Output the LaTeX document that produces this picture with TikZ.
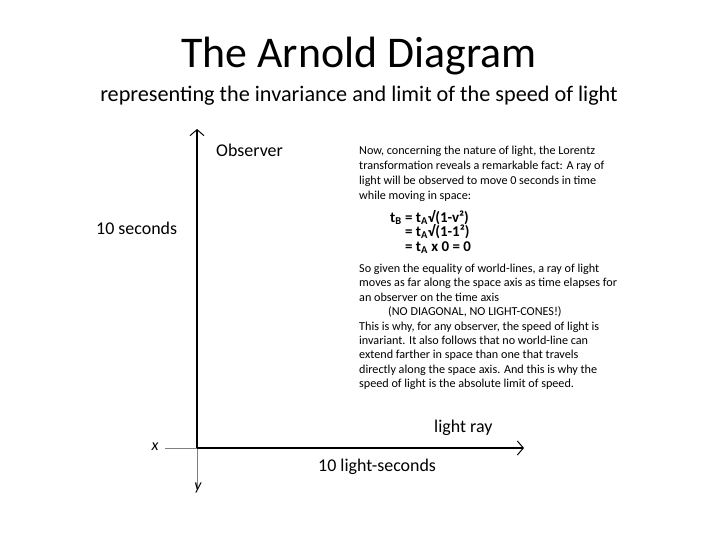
\documentclass[tikz,border=0pt]{standalone}
\usepackage{fontspec}
\setmainfont{Carlito}
\usetikzlibrary{arrows.meta}
\begin{document}
\begin{tikzpicture}[x=1bp,y=-1bp,
  lbl/.style={inner sep=0pt,font=\fontsize{18}{20}\selectfont},
  para/.style={inner sep=0pt,align=left,anchor=north west,font=\fontsize{12.2}{14.4}\selectfont},
  axis/.style={line width=1.2pt,-{Straight Barb[length=6bp,width=14bp,line width=1pt]}},
  thin/.style={gray,line width=0.6pt}]
\useasboundingbox (0,0) rectangle (720,540);
\node[inner sep=0pt,font=\fontsize{44}{48}\selectfont,anchor=base] (title) at (359,68) {The Arnold Diagram};
\node[inner sep=0pt,font=\fontsize{22.3}{24}\selectfont,anchor=base] (sub) at (359,102) {representing the invariance and limit of the speed of light};
\coordinate (o) at (197,448);
\coordinate (top) at (197,129);
\coordinate (right) at (524,448);
\coordinate (left) at (165,448);
\coordinate (bottom) at (197,489);
\draw[thin] (left) -- (o) -- (bottom);
\draw[axis] (o) -- (top);
\draw[axis] (o) -- (right);
\node[lbl,anchor=west] (obs) at (216,150) {Observer};
\node[lbl,anchor=west] (tens) at (96,228) {10 seconds};
\node[lbl,anchor=west] (ray) at (434,428) {light ray};
\node[lbl,anchor=west] (ls) at (318,467) {10 light-seconds};
\node[lbl,font=\fontsize{16}{18}\selectfont\itshape] (xl) at (155,447) {x};
\node[lbl,font=\fontsize{16}{18}\selectfont\itshape] (yl) at (198,488) {y};
\node[para,font=\fontsize{12.2}{15}\selectfont] (p1) at (359,146) {Now, concerning the nature of light, the Lorentz\\transformation reveals a remarkable fact: A ray of\\light will be observed to move 0 seconds in time\\while moving in space:};
\node[para,font=\fontsize{15}{14.5}\selectfont\bfseries] (eq) at (390,210) {t\textsubscript{B} = t\textsubscript{A}√(1-v²)\\\hphantom{t\textsubscript{B} }= t\textsubscript{A}√(1-1²)\\\hphantom{t\textsubscript{B} }= t\textsubscript{A} x 0 = 0};
\node[para] (p2) at (359,264) {So given the equality of world-lines, a ray of light\\moves as far along the space axis as time elapses for\\an observer on the time axis\\\hspace*{29bp}(NO DIAGONAL, NO LIGHT-CONES!)\\This is why, for any observer, the speed of light is\\invariant. It also follows that no world-line can\\extend farther in space than one that travels\\directly along the space axis. And this is why the\\speed of light is the absolute limit of speed.};
\end{tikzpicture}
\end{document}
